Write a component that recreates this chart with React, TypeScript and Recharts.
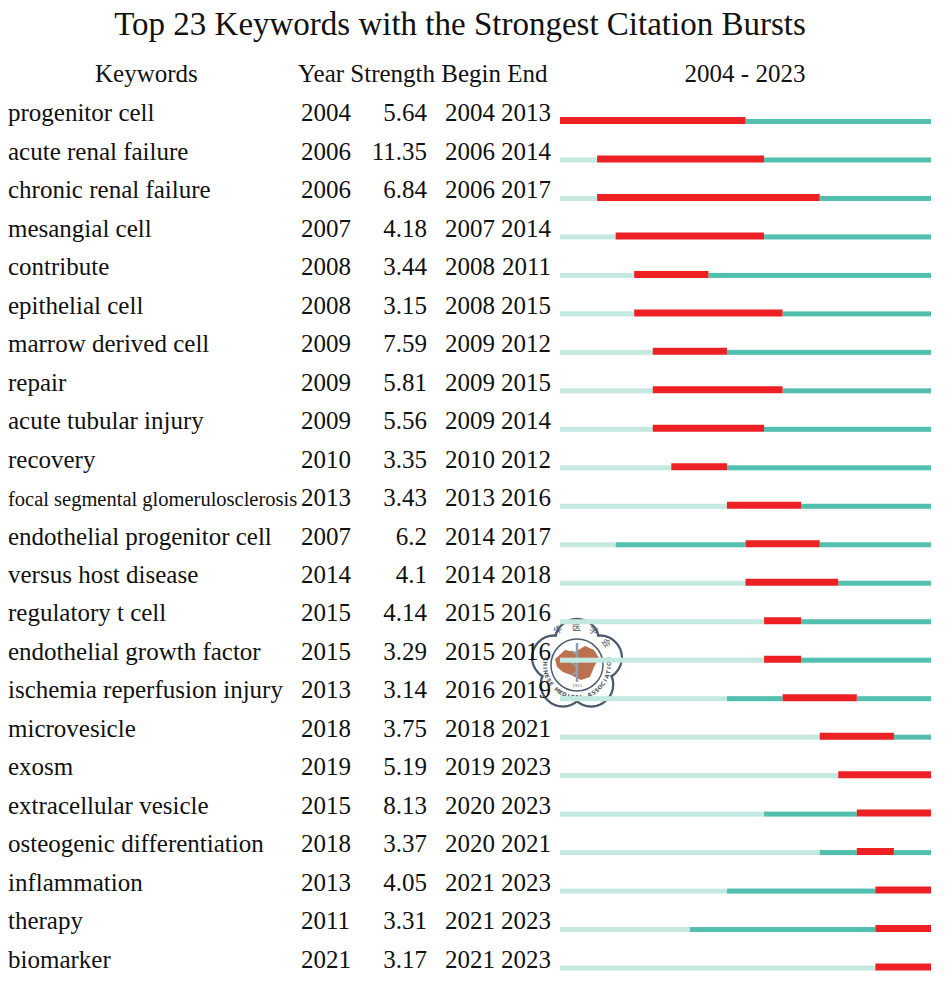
import React from 'react';
import { BarChart, Bar, XAxis, YAxis, Customized } from 'recharts';

const keywords = [
  'progenitor cell', 'acute renal failure', 'chronic renal failure', 'mesangial cell',
  'contribute', 'epithelial cell', 'marrow derived cell', 'repair', 'acute tubular injury',
  'recovery', 'focal segmental glomerulosclerosis', 'endothelial progenitor cell',
  'versus host disease', 'regulatory t cell', 'endothelial growth factor',
  'ischemia reperfusion injury', 'microvesicle', 'exosm', 'extracellular vesicle',
  'osteogenic differentiation', 'inflammation', 'therapy', 'biomarker',
];
const years = [2004, 2006, 2006, 2007, 2008, 2008, 2009, 2009, 2009, 2010, 2013, 2007, 2014, 2015, 2015, 2013, 2018, 2019, 2015, 2018, 2013, 2011, 2021];
const strengths = ['5.64', '11.35', '6.84', '4.18', '3.44', '3.15', '7.59', '5.81', '5.56', '3.35', '3.43', '6.2', '4.1', '4.14', '3.29', '3.14', '3.75', '5.19', '8.13', '3.37', '4.05', '3.31', '3.17'];
const begins = [2004, 2006, 2006, 2007, 2008, 2008, 2009, 2009, 2009, 2010, 2013, 2014, 2014, 2015, 2015, 2016, 2018, 2019, 2020, 2020, 2021, 2021, 2021];
const ends = [2013, 2014, 2017, 2014, 2011, 2015, 2012, 2015, 2014, 2012, 2016, 2017, 2018, 2016, 2016, 2019, 2021, 2023, 2023, 2021, 2023, 2023, 2023];
const startYear = 2004;
const endYear = 2023;

const rows = keywords.map((k, i) => ({
  keyword: k,
  year: years[i],
  strength: strengths[i],
  begin: begins[i],
  end: ends[i],
  light: [startYear, years[i]],
  teal1: [years[i], begins[i]],
  red: [begins[i], ends[i] + 1],
  teal2: [ends[i] + 1, endYear + 1],
}));

const FONT = "'Liberation Serif', 'Times New Roman', Times, serif";
const RED = '#ED2024';
const TEAL = '#52BFAF';
const LIGHT = '#C4E9E1';
const serifStyle = { fontFamily: FONT };

const RowTick = (props: any) => {
  const { y, payload } = props;
  const d = rows.find((r) => r.keyword === payload.value);
  if (!d) return null;
  const by = y + 1;
  const small = d.keyword.length > 30;
  return (
    <g style={serifStyle} fill="#111">
      <text style={serifStyle} x={8} y={by} fontSize={small ? 20.5 : 25} textAnchor="start">{d.keyword}</text>
      <text style={serifStyle} x={301} y={by} fontSize={25} textAnchor="start">{d.year}</text>
      <text style={serifStyle} x={427} y={by} fontSize={25} textAnchor="end">{d.strength}</text>
      <text style={serifStyle} x={445} y={by} fontSize={25} textAnchor="start">{d.begin}</text>
      <text style={serifStyle} x={551} y={by} fontSize={25} textAnchor="end">{d.end}</text>
    </g>
  );
};

const ThinBar = (props: any) => {
  const { x, y, width, height, fill } = props;
  if (!width || width <= 0) return null;
  return <rect x={x} y={y + height - 5} width={width} height={5} fill={fill} />;
};

const Headers = () => (
  <g style={serifStyle} fill="#111">
    <text style={serifStyle} x={460} y={34.5} fontSize={33} textAnchor="middle">Top 23 Keywords with the Strongest Citation Bursts</text>
    <text style={serifStyle} x={95} y={82} fontSize={25} textAnchor="start">Keywords</text>
    <text style={serifStyle} x={298} y={82} fontSize={25} textAnchor="start">Year Strength Begin End</text>
    <text style={serifStyle} x={745} y={82} fontSize={25} textAnchor="middle">{`${startYear} - ${endYear}`}</text>
  </g>
);

const Watermark = () => {
  const cx = 577;
  const cy = 665;
  const lobes = [0, 1, 2, 3, 4].map((i) => {
    const a = (-90 + i * 72) * Math.PI / 180;
    return { x: cx + 24 * Math.cos(a), y: cy + 24 * Math.sin(a) };
  });
  const ink = '#3f4f63';
  const label = 'CHINESE MEDICAL ASSOCIATION';
  const r = 32;
  const span = 200;
  const letters = label.split('').map((ch, i) => {
    const deg = 180 - (180 - span) / 2 - (i * span) / (label.length - 1);
    const a = (deg * Math.PI) / 180;
    return { ch, x: cx + r * Math.cos(a), y: cy + r * Math.sin(a), rot: deg - 90 };
  });
  return (
    <g opacity={0.92}>
      {lobes.map((p, i) => (
        <circle key={'s' + i} cx={p.x} cy={p.y} r={22} fill="none" stroke={ink} strokeWidth={2.5} />
      ))}
      {lobes.map((p, i) => (
        <circle key={'f' + i} cx={p.x} cy={p.y} r={20.8} fill="#fff" />
      ))}
      <circle cx={cx} cy={cy} r={30} fill="#fff" />
      <circle cx={cx} cy={cy} r={26} fill="none" stroke={ink} strokeWidth={1.5} />
      <path
        d={`M ${cx - 22} ${cy - 6} L ${cx - 12} ${cy - 15} L ${cx - 2} ${cy - 13} L ${cx + 8} ${cy - 19} L ${cx + 17} ${cy - 15} L ${cx + 22} ${cy - 7} L ${cx + 17} ${cy + 2} L ${cx + 13} ${cy + 12} L ${cx + 4} ${cy + 15} L ${cx - 6} ${cy + 10} L ${cx - 14} ${cy + 7} L ${cx - 20} ${cy + 2} Z`}
        fill="#b6643f"
      />
      <line x1={cx} y1={cy - 22} x2={cx} y2={cy + 17} stroke="#8a97a8" strokeWidth={2.5} />
      <path d={`M ${cx - 5} ${cy - 14} Q ${cx + 6} ${cy - 8} ${cx - 5} ${cy - 2} Q ${cx + 6} ${cy + 4} ${cx - 5} ${cy + 10}`} fill="none" stroke="#8a97a8" strokeWidth={1.5} />
      <text x={cx - 21} y={cy - 30} fontSize={9} fill={ink} fontFamily="Noto Sans CJK SC" transform={`rotate(-35 ${cx - 21} ${cy - 30})`}>华</text>
      <text x={cx - 5} y={cy - 35} fontSize={9} fill={ink} fontFamily="Noto Sans CJK SC">医</text>
      <text x={cx + 11} y={cy - 34} fontSize={9} fill={ink} fontFamily="Noto Sans CJK SC" transform={`rotate(30 ${cx + 11} ${cy - 34})`}>学</text>
      <text x={cx + 24} y={cy - 24} fontSize={9} fill={ink} fontFamily="Noto Sans CJK SC" transform={`rotate(55 ${cx + 24} ${cy - 24})`}>会</text>
      <text x={cx} y={cy + 22} fontSize={5} fill={ink} textAnchor="middle" style={serifStyle}>1915</text>
      {letters.map((l, i) => (
        <text
          key={'l' + i}
          x={l.x}
          y={l.y}
          fontSize={5.6}
          fill={ink}
          fontFamily="DejaVu Sans"
          fontWeight="bold"
          textAnchor="middle"
          dominantBaseline="central"
          transform={`rotate(${l.rot} ${l.x} ${l.y})`}
        >
          {l.ch}
        </text>
      ))}
    </g>
  );
};

export default function App() {
  return (
    <div style={{ position: 'absolute', left: 0, top: 0, width: 949, height: 989, background: '#fff', fontFamily: FONT }}>
      <BarChart
        width={949}
        height={989}
        data={rows}
        layout="vertical"
        margin={{ top: 101, right: 18, bottom: 3, left: 0 }}
        barCategoryGap={0}
        style={serifStyle}
      >
        <XAxis type="number" domain={[startYear, endYear + 1]} hide allowDataOverflow />
        <YAxis
          yAxisId="main"
          type="category"
          dataKey="keyword"
          width={560}
          axisLine={false}
          tickLine={false}
          interval={0}
          tick={<RowTick />}
        />
        <YAxis yAxisId="b" type="category" dataKey="keyword" hide />
        <YAxis yAxisId="c" type="category" dataKey="keyword" hide />
        <YAxis yAxisId="d" type="category" dataKey="keyword" hide />
        <Bar yAxisId="main" dataKey="light" fill={LIGHT} barSize={7} shape={<ThinBar />} isAnimationActive={false} />
        <Bar yAxisId="b" dataKey="teal1" fill={TEAL} barSize={7} shape={<ThinBar />} isAnimationActive={false} />
        <Bar yAxisId="c" dataKey="teal2" fill={TEAL} barSize={7} shape={<ThinBar />} isAnimationActive={false} />
        <Bar yAxisId="d" dataKey="red" fill={RED} barSize={7} isAnimationActive={false} />
        <Customized component={<Headers />} />
        <Customized component={<Watermark />} />
      </BarChart>
    </div>
  );
}
